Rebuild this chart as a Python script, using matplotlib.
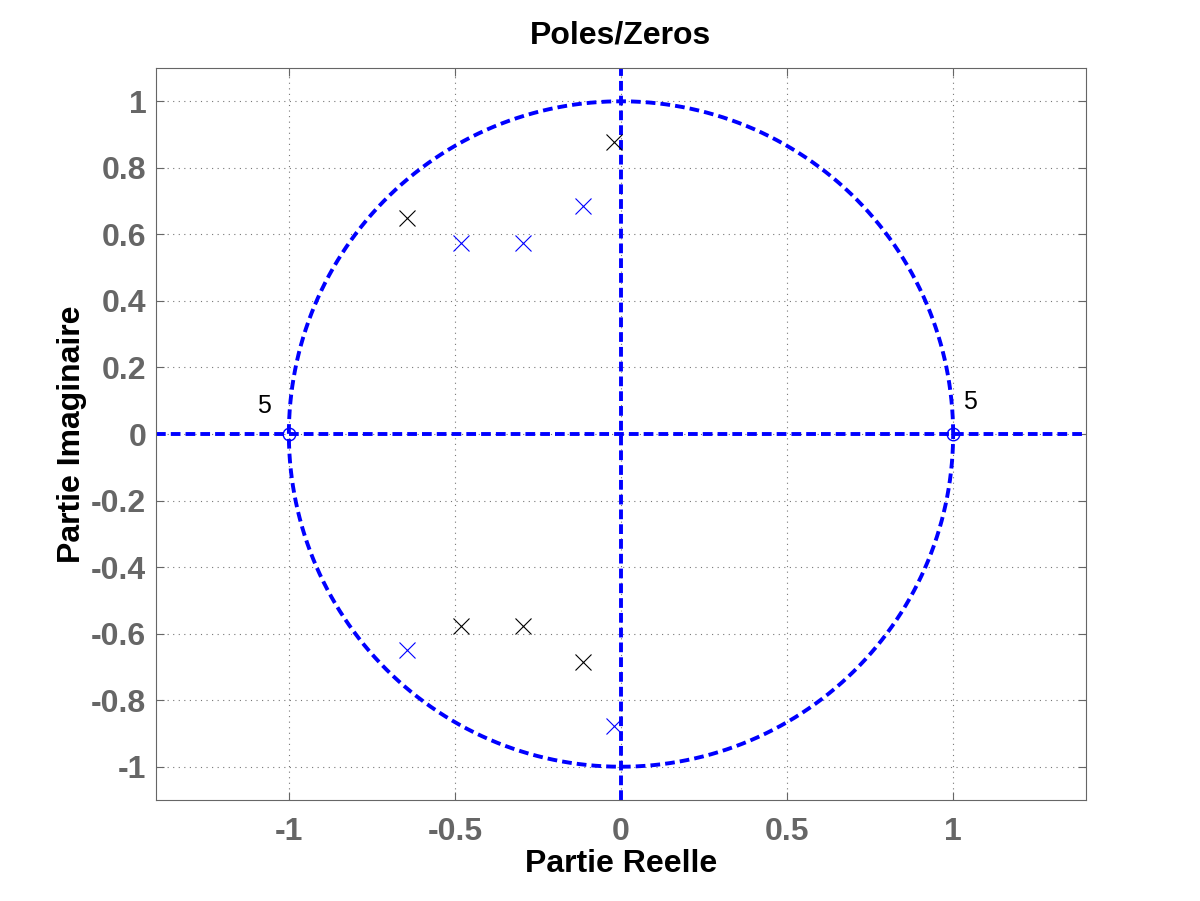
import numpy as np
import matplotlib
matplotlib.use("Agg")
import matplotlib.pyplot as plt

plt.rcParams['font.family'] = ['Liberation Sans', 'DejaVu Sans']

# Data
zeros_re = [-1.0, 1.0]
zeros_im = [0.0, 0.0]
zero_mult = ["5", "5"]
poles_black_re = [-0.021, -0.643, -0.483, -0.294, -0.114]
poles_black_im = [0.877, 0.649, -0.577, -0.577, -0.685]
poles_blue_re = [-0.483, -0.294, -0.114, -0.643, -0.021]
poles_blue_im = [0.574, 0.574, 0.685, -0.649, -0.877]
xticks = [-1, -0.5, 0, 0.5, 1]
xticklabels = ["-1", "-0.5", "0", "0.5", "1"]
yticks = [-1, -0.8, -0.6, -0.4, -0.2, 0, 0.2, 0.4, 0.6, 0.8, 1]
yticklabels = ["-1", "-0.8", "-0.6", "-0.4", "-0.2", "0", "0.2", "0.4", "0.6", "0.8", "1"]

fig = plt.figure(figsize=(12, 9.01), dpi=100)
ax = fig.add_axes([0.13, 0.1121, 0.775, 0.8124])
ax.set_xlim(-1.4, 1.4)
ax.set_ylim(-1.1, 1.1)

gray = '#666666'
ax.grid(True, linestyle=(0, (1, 4)), color='#777777', linewidth=0.8)
ax.set_axisbelow(True)

ls = (0, (2.5, 1.3))
lw = 2.8
blue = '#0000ff'
t = np.linspace(0, 2 * np.pi, 500)
ax.plot(np.cos(t), np.sin(t), color=blue, lw=lw, linestyle=ls)
ax.plot([-1.4, 1.4], [0, 0], color=blue, lw=lw, linestyle=ls)
ax.plot([0, 0], [-1.1, 1.1], color=blue, lw=lw, linestyle=ls)

ax.plot(zeros_re, zeros_im, 'o', markerfacecolor='none', markeredgecolor=blue,
        markersize=9, markeredgewidth=1)
ax.plot(poles_black_re, poles_black_im, 'x', color='black', markersize=12, markeredgewidth=0.8)
ax.plot(poles_blue_re, poles_blue_im, 'x', color=blue, markersize=12, markeredgewidth=0.8)

ax.text(-1.075, 0.085, zero_mult[0], fontsize=18, ha='center', va='center', color='black')
ax.text(1.05, 0.095, zero_mult[1], fontsize=18, ha='center', va='center', color='black')

ax.set_xticks(xticks)
ax.set_xticklabels(xticklabels)
ax.set_yticks(yticks)
ax.set_yticklabels(yticklabels)
ax.tick_params(direction='in', top=True, right=True, length=6, color=gray,
               labelcolor=gray, labelsize=23)
ax.tick_params(axis='x', pad=12)
ax.tick_params(axis='y', pad=7)
for lab in ax.get_xticklabels() + ax.get_yticklabels():
    lab.set_fontweight('bold')
for s in ax.spines.values():
    s.set_color(gray)

ax.set_xlabel('Partie Reelle', fontsize=23, fontweight='bold', labelpad=2)
ax.set_ylabel('Partie Imaginaire', fontsize=23, fontweight='bold', labelpad=3)
ax.set_title('Poles/Zeros', fontsize=23, fontweight='bold', pad=18)

fig.savefig('out.png', dpi=100)
